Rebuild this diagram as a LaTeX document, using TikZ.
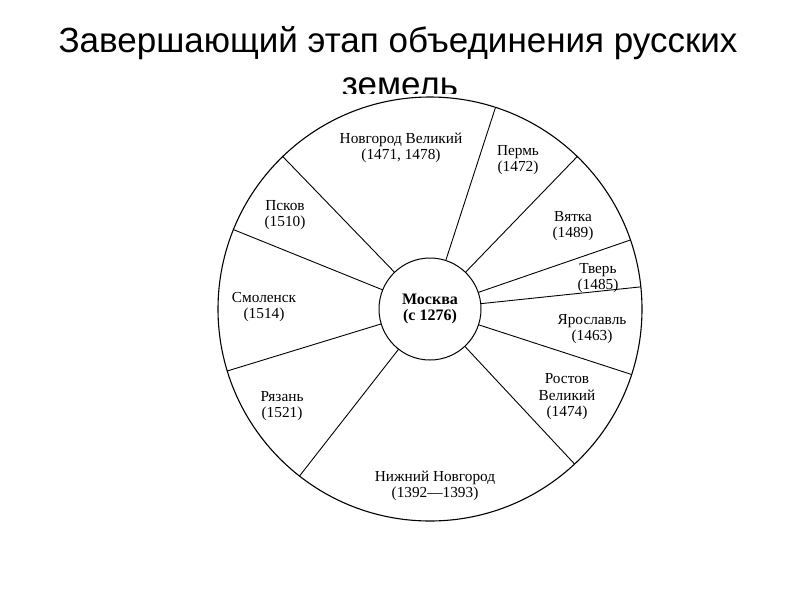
\documentclass[tikz,border=0pt]{standalone}
\usepackage{fontspec}
\setmainfont{Liberation Serif}
\newfontfamily\titlefont{Liberation Sans}
\usetikzlibrary{positioning, calc}

\begin{document}
\begin{tikzpicture}[
    x=1pt, y=-1pt,
    heading/.style={anchor=base, font=\titlefont\fontsize{35}{42}\selectfont},
    region/.style={align=center, inner sep=0pt, font=\fontsize{15.3}{16.5}\selectfont},
    ring/.style={circle, draw, inner sep=0pt, outer sep=0pt},
    spoke/.style={line width=0.9pt}
]
    \useasboundingbox (0,0) rectangle (800,600);

    % title
    \node[heading] (title) at (398,52) {Завершающий этап объединения русских};
    \begin{scope}
        \clip (0,0) rectangle (800,93);
        \node[heading] (title2) at (400,96) {земель};
    \end{scope}

    % rim and Moscow
    \node[ring, line width=1.1pt, minimum size=424pt] (rim) at (430,309) {};
    \node[ring, line width=1pt, minimum size=102pt, align=center,
          font=\fontsize{16}{16.5}\selectfont\bfseries] (moscow) at (430,309) {Москва\\(с 1276)};

    % spokes
    \foreach \a in {72, 46, 19, 6, 342, 313, 232, 197, 158, 134}
        \draw[spoke] (moscow.\a) -- (rim.\a);

    % regions
    \node[region] (novgorod) at (401,148) {Новгород Великий\\(1471, 1478)};
    \node[region] (perm) at (518,160) {Пермь\\(1472)};
    \node[region] (vyatka) at (573,226) {Вятка\\(1489)};
    \node[region] (tver) at (598,278) {Тверь\\(1485)};
    \node[region] (yaroslavl) at (592,329) {Ярославль\\(1463)};
    \node[region] (rostov) at (567,397) {Ростов\\Великий\\(1474)};
    \node[region] (nizhny) at (435,486) {Нижний Новгород\\(1392—1393)};
    \node[region] (ryazan) at (282,406) {Рязань\\(1521)};
    \node[region] (smolensk) at (264,307) {Смоленск\\(1514)};
    \node[region] (pskov) at (285,215) {Псков\\(1510)};
\end{tikzpicture}
\end{document}
